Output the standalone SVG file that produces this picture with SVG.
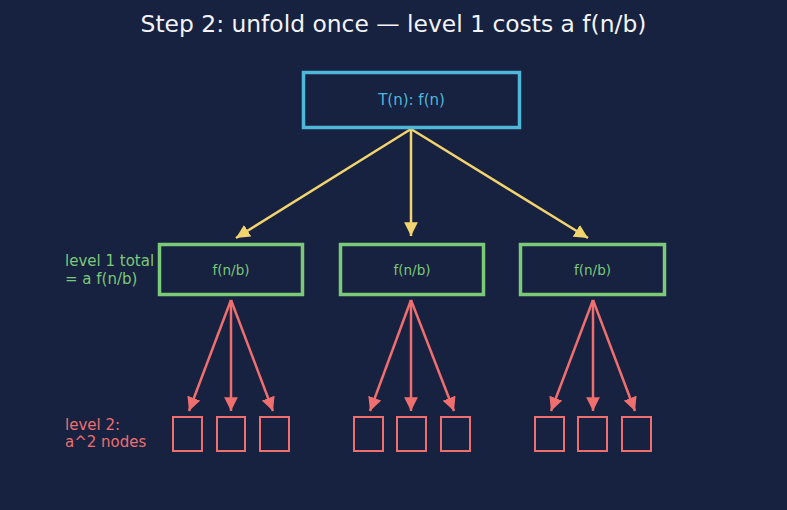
<svg xmlns="http://www.w3.org/2000/svg" width="787" height="510" viewBox="0 0 787 510">
<defs>
<style>
text{font-family:"DejaVu Sans","Liberation Sans",sans-serif}
.title{fill:#f2f4f8;font-size:23.4px;text-anchor:middle}
.root{fill:none;stroke:#4fb8d9;stroke-width:3.5}
.rootT{fill:#4fb8d9;font-size:15px;text-anchor:middle}
.l1{fill:none;stroke:#7cc977;stroke-width:3.5}
.l1T{fill:#7cc977;font-size:13.5px;text-anchor:middle}
.l2{fill:none;stroke:#ef6f6f;stroke-width:2}
.ya{stroke:#f2d46e;stroke-width:2.5;fill:none;marker-end:url(#ay)}
.ra{stroke:#ef6f6f;stroke-width:2.5;fill:none;marker-end:url(#ar)}
.lg{fill:#7cc977;font-size:15px}
.lr{fill:#ef6f6f;font-size:15px}
</style>
<marker id="ay" viewBox="0 0 10 10" refX="10" refY="5" markerWidth="5.5" markerHeight="5.5" orient="auto" markerUnits="strokeWidth"><path d="M0,0L10,5L0,10z" fill="#f2d46e"/></marker>
<marker id="ar" viewBox="0 0 10 10" refX="10" refY="5" markerWidth="5.5" markerHeight="5.5" orient="auto" markerUnits="strokeWidth"><path d="M0,0L10,5L0,10z" fill="#ef6f6f"/></marker>
</defs>
<rect width="787" height="510" fill="#172140"/>
<text class="title" x="393.5" y="32">Step 2: unfold once — level 1 costs a f(n/b)</text>
<g id="connectors">
<line class="ya" x1="411" y1="129" x2="236" y2="238"/>
<line class="ya" x1="411" y1="129" x2="411" y2="236"/>
<line class="ya" x1="411" y1="129" x2="588" y2="238"/>
<line class="ra" x1="231" y1="300" x2="189" y2="411"/>
<line class="ra" x1="231" y1="300" x2="231" y2="411"/>
<line class="ra" x1="231" y1="300" x2="273" y2="411"/>
<line class="ra" x1="411" y1="300" x2="370" y2="411"/>
<line class="ra" x1="411" y1="300" x2="411" y2="411"/>
<line class="ra" x1="411" y1="300" x2="454" y2="411"/>
<line class="ra" x1="593" y1="300" x2="551" y2="411"/>
<line class="ra" x1="593" y1="300" x2="593" y2="411"/>
<line class="ra" x1="593" y1="300" x2="635" y2="411"/>
</g>
<g id="root"><rect class="root" x="303.5" y="72.5" width="216" height="55"/><text class="rootT" x="411.5" y="105">T(n): f(n)</text></g>
<g id="l1a"><rect class="l1" x="159.5" y="244.5" width="143" height="50"/><text class="l1T" x="231" y="274.5">f(n/b)</text></g>
<g id="l1b"><rect class="l1" x="340.5" y="244.5" width="143" height="50"/><text class="l1T" x="412" y="274.5">f(n/b)</text></g>
<g id="l1c"><rect class="l1" x="520.5" y="244.5" width="144" height="50"/><text class="l1T" x="592.5" y="274.5">f(n/b)</text></g>
<g id="l2a1"><rect class="l2" x="173" y="417" width="29" height="34"/></g>
<g id="l2a2"><rect class="l2" x="217" y="417" width="28" height="34"/></g>
<g id="l2a3"><rect class="l2" x="260" y="417" width="29" height="34"/></g>
<g id="l2b1"><rect class="l2" x="354" y="417" width="29" height="34"/></g>
<g id="l2b2"><rect class="l2" x="397" y="417" width="29" height="34"/></g>
<g id="l2b3"><rect class="l2" x="441" y="417" width="29" height="34"/></g>
<g id="l2c1"><rect class="l2" x="535" y="417" width="29" height="34"/></g>
<g id="l2c2"><rect class="l2" x="578" y="417" width="29" height="34"/></g>
<g id="l2c3"><rect class="l2" x="622" y="417" width="29" height="34"/></g>
<g id="label1"><text class="lg" x="65" y="266">level 1 total</text><text class="lg" x="65" y="284">= a f(n/b)</text></g>
<g id="label2"><text class="lr" x="65" y="430">level 2:</text><text class="lr" x="65" y="447">a^2 nodes</text></g>
</svg>
